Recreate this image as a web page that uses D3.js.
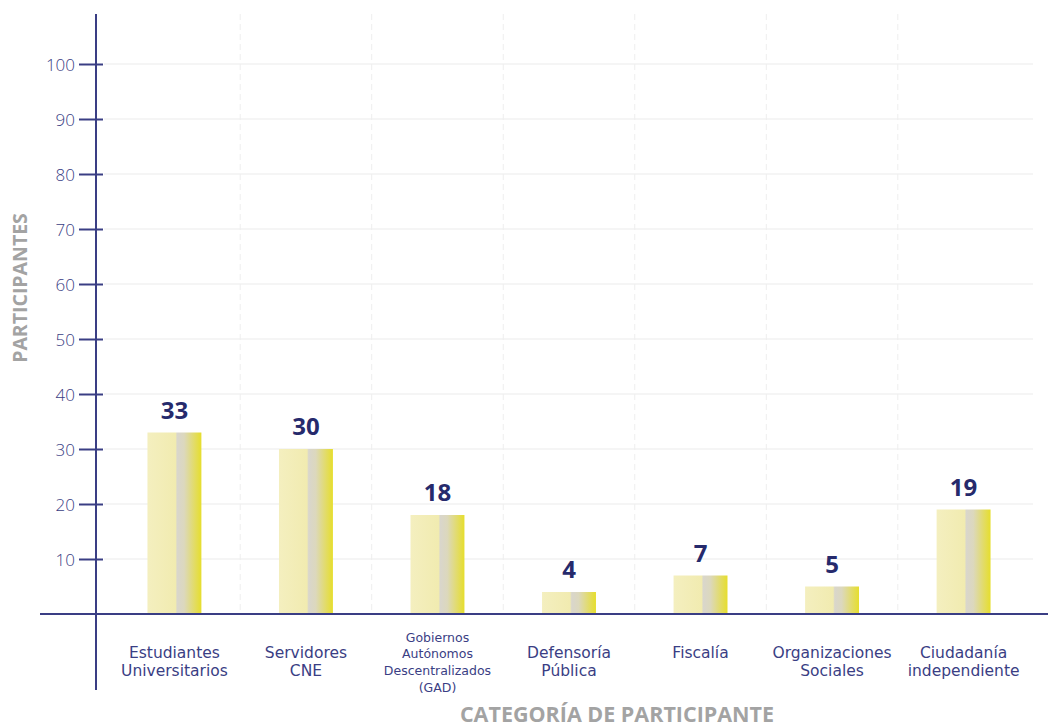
<!DOCTYPE html>
<html>
<head>
<meta charset="utf-8">
<script src="https://cdnjs.cloudflare.com/ajax/libs/d3/7.8.5/d3.min.js"></script>
<style>
  body { margin: 0; background: #fff; }
  svg { display: block; }
</style>
</head>
<body>
<div id="chart"></div>
<script>
// data
var categories = [
  ["Estudiantes", "Universitarios"],
  ["Servidores", "CNE"],
  ["Gobiernos", "Autónomos", "Descentralizados", "(GAD)"],
  ["Defensoría", "Pública"],
  ["Fiscalía"],
  ["Organizaciones", "Sociales"],
  ["Ciudadanía", "independiente"]
];
var participantes = [33, 30, 18, 4, 7, 5, 19];
var yTicks = [10, 20, 30, 40, 50, 60, 70, 80, 90, 100];

var W = 1048, H = 728;
var navy = "#3a3e84";

var svg = d3.select("#chart").append("svg")
  .attr("width", W)
  .attr("height", H);

var defs = svg.append("defs");
var grad = defs.append("linearGradient")
  .attr("id", "barGrad")
  .attr("x1", "0%").attr("x2", "100%")
  .attr("y1", "0%").attr("y2", "0%");
grad.append("stop").attr("offset", "0%").attr("stop-color", "#f4efbf");
grad.append("stop").attr("offset", "52%").attr("stop-color", "#f1ebb0");
grad.append("stop").attr("offset", "55%").attr("stop-color", "#d9d6cc");
grad.append("stop").attr("offset", "68%").attr("stop-color", "#dcd8bd");
grad.append("stop").attr("offset", "100%").attr("stop-color", "#e6de2c");

var x0 = 96, yBase = 614;

var x = d3.scaleBand()
  .domain(d3.range(categories.length))
  .range([108, 1030])
  .paddingInner(0.59)
  .paddingOuter(0.3);

var y = d3.scaleLinear()
  .domain([0, 100])
  .range([yBase, 64]);

// horizontal grid
svg.append("g")
  .selectAll("line")
  .data(yTicks)
  .enter()
  .append("line")
  .attr("x1", 104).attr("x2", 1033)
  .attr("y1", function(d){ return y(d); })
  .attr("y2", function(d){ return y(d); })
  .attr("stroke", "#ebebeb")
  .attr("stroke-width", 1.2);

// vertical dashed separators between categories
var seps = d3.range(1, categories.length);
svg.append("g")
  .selectAll("line")
  .data(seps)
  .enter()
  .append("line")
  .attr("x1", function(d){ return x(d) - x.step() * x.paddingInner() / 2; })
  .attr("x2", function(d){ return x(d) - x.step() * x.paddingInner() / 2; })
  .attr("y1", 14).attr("y2", yBase)
  .attr("stroke", "#eeeeee")
  .attr("stroke-dasharray", "6,4");

// bars
svg.append("g")
  .selectAll("rect")
  .data(participantes)
  .enter()
  .append("rect")
  .attr("x", function(d,i){ return x(i); })
  .attr("width", x.bandwidth())
  .attr("y", function(d){ return y(d); })
  .attr("height", function(d){ return yBase - y(d); })
  .attr("fill", "url(#barGrad)");

// value labels
svg.append("g")
  .selectAll("text")
  .data(participantes)
  .enter()
  .append("text")
  .attr("x", function(d,i){ return x(i) + x.bandwidth() / 2; })
  .attr("y", function(d){ return y(d) - 14; })
  .attr("text-anchor", "middle")
  .attr("font-family", "'Open Sans', sans-serif")
  .attr("font-weight", "bold")
  .attr("font-size", 24)
  .attr("fill", "#262a6c")
  .text(function(d){ return d; });

// y axis
var yAxis = d3.axisLeft(y)
  .tickValues(yTicks)
  .tickSize(0)
  .tickPadding(0);
var gy = svg.append("g")
  .attr("transform", "translate(" + x0 + ",0)")
  .call(yAxis);
gy.select(".domain").remove();
gy.selectAll(".tick line").remove();
gy.selectAll(".tick")
  .append("line")
  .attr("x1", -17).attr("x2", 7)
  .attr("stroke", navy)
  .attr("stroke-width", 2);
gy.selectAll(".tick text")
  .attr("x", -21)
  .attr("dy", "0.36em")
  .attr("font-family", "'Open Sans', sans-serif")
  .attr("font-weight", 300)
  .attr("font-size", 17)
  .attr("fill", navy);

svg.append("line")
  .attr("x1", x0).attr("x2", x0)
  .attr("y1", 14).attr("y2", 690)
  .attr("stroke", navy)
  .attr("stroke-width", 2);

// x axis line
svg.append("line")
  .attr("x1", 40).attr("x2", W)
  .attr("y1", yBase).attr("y2", yBase)
  .attr("stroke", navy)
  .attr("stroke-width", 2);

// category labels
var cat = svg.append("g")
  .selectAll("text")
  .data(categories)
  .enter()
  .append("text")
  .attr("text-anchor", "middle")
  .attr("font-family", "'DejaVu Sans', sans-serif")
  .attr("fill", navy)
  .attr("font-size", function(d){ return d.length > 2 ? 12.5 : 15.5; })
  .attr("transform", function(d,i){
    var top = d.length > 2 ? 641.5 : 657.5;
    return "translate(" + (x(i) + x.bandwidth() / 2) + "," + top + ")";
  });
cat.selectAll("tspan")
  .data(function(d){ return d.map(function(t){ return {t: t, n: d.length}; }); })
  .enter()
  .append("tspan")
  .attr("x", 0)
  .attr("y", function(d,i){ return i * (d.n > 2 ? 16.7 : 18.5); })
  .text(function(d){ return d.t; });

// axis titles
svg.append("text")
  .attr("transform", "translate(27,288) rotate(-90)")
  .attr("text-anchor", "middle")
  .attr("font-family", "'Open Sans', sans-serif")
  .attr("font-weight", "bold")
  .attr("font-size", 19.5)
  .attr("fill", "#a3a3a3")
  .text("PARTICIPANTES");

svg.append("text")
  .attr("x", 617)
  .attr("y", 722)
  .attr("text-anchor", "middle")
  .attr("font-family", "'Open Sans', sans-serif")
  .attr("font-weight", "bold")
  .attr("font-size", 21.5)
  .attr("fill", "#a3a3a3")
  .text("CATEGORÍA DE PARTICIPANTE");
</script>
</body>
</html>
